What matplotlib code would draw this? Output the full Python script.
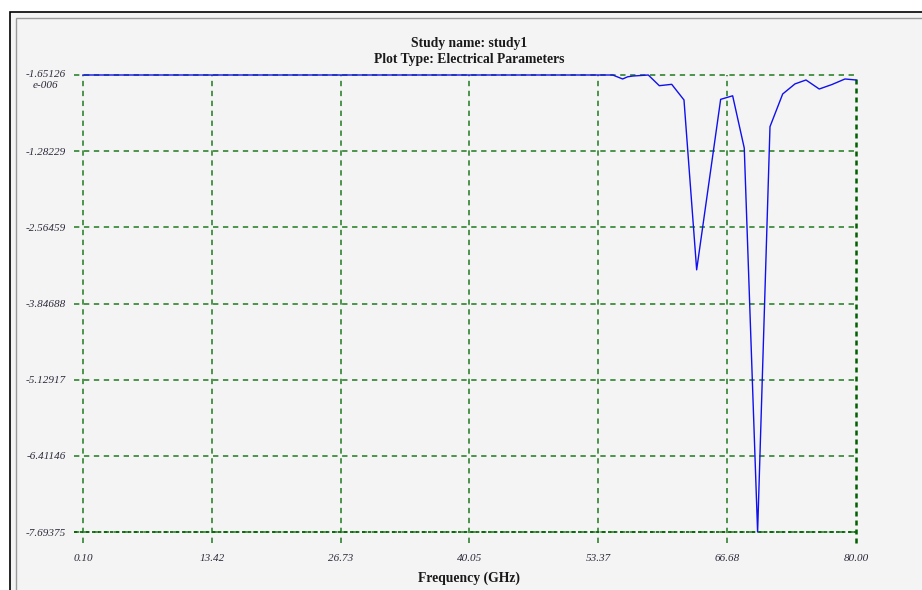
import matplotlib
matplotlib.use("Agg")
import matplotlib.pyplot as plt
from matplotlib.patches import Rectangle
from matplotlib.transforms import ScaledTranslation

# ---- data ----
freq_ghz = [0.10, 54.85, 55.88, 56.40, 56.95, 58.53, 59.67, 60.95, 62.22, 63.53,
            66.01, 67.25, 68.45, 69.83, 71.11, 72.42, 73.69, 74.83, 76.20, 77.52,
            78.86, 80.00]
values = [-1.65126e-6, -1.65126e-6, -0.067, -0.030, -0.017, -1.65126e-6, -0.180, -0.157,
          -0.420, -3.280, -0.410, -0.350, -1.230, -7.69375, -0.870, -0.320, -0.150,
          -0.084, -0.236, -0.160, -0.067, -0.084]

x_ticks = [0.10, 13.42, 26.73, 40.05, 53.37, 66.68, 80.00]
x_tick_labels = ["0.10", "13.42", "26.73", "40.05", "53.37", "66.68", "80.00"]
y_ticks = [-1.65126e-6, -1.28229, -2.56459, -3.84688, -5.12917, -6.41146, -7.69375]
y_tick_labels = ["-1.65126\ne-006", "-1.28229", "-2.56459", "-3.84688",
                 "-5.12917", "-6.41146", "-7.69375"]

title_line1 = "Study name: study1"
title_line2 = "Plot Type: Electrical Parameters"
x_label = "Frequency (GHz)"

# ---- figure ----
W, H = 922, 590
fig = plt.figure(figsize=(W / 100, H / 100), dpi=100)
fig.patch.set_facecolor("white")

# window frame
fig.add_artist(Rectangle((9.5 / W, -0.1), 1.2, 1 - 12.5 / H + 0.1,
                         transform=fig.transFigure, facecolor="#f4f4f4",
                         edgecolor="black", linewidth=1.2, zorder=0))
fig.add_artist(Rectangle((15.5 / W, -0.1), 1.2, 1 - 17.5 / H + 0.1,
                         transform=fig.transFigure, facecolor="none",
                         edgecolor="#9a9a9a", linewidth=1.0, zorder=0))

left, right, top, bottom = 83, 856, 75, 532
ax = fig.add_axes([left / W, 1 - bottom / H, (right - left) / W, (bottom - top) / H])
ax.set_facecolor("none")

grid_color = "#1f7a1f"
ax.set_xlim(0.10, 80.00)
ax.set_ylim(-7.69375, -1.65126e-6)

dash = (0, (3.5, 3))
for xv in x_ticks[:-1]:
    ax.plot([xv, xv], [-0.024, 1], transform=ax.get_xaxis_transform(),
            color=grid_color, linewidth=1.1, linestyle=dash, clip_on=False, zorder=1)
for yv in y_ticks[1:]:
    ax.plot([-0.012, 1], [yv, yv], transform=ax.get_yaxis_transform(),
            color=grid_color, linewidth=1.1, linestyle=dash, clip_on=False, zorder=1)
ax.plot([-0.012, 1], [y_ticks[0], y_ticks[0]], transform=ax.get_yaxis_transform(),
        color=grid_color, linewidth=1.1, linestyle=dash, clip_on=False, zorder=1)
ax.plot([x_ticks[-1], x_ticks[-1]], [-0.024, 1], transform=ax.get_xaxis_transform(),
        color="#006000", linewidth=1.8, linestyle=(0, (2, 1.6)), clip_on=False, zorder=1)
ax.plot([-0.012, 1], [y_ticks[-1], y_ticks[-1]], transform=ax.get_yaxis_transform(),
        color="#006000", linewidth=1.2, linestyle=(0, (2, 1.6)), clip_on=False, zorder=1)

for s in ax.spines.values():
    s.set_visible(False)

ax.plot(freq_ghz, values, color="#1010ee", linewidth=1.0, clip_on=False, zorder=3)

tick_font = dict(family="Liberation Serif", style="italic", size=8)
ax.set_xticks(x_ticks)
ax.set_xticklabels(x_tick_labels, color="#2a2a3a", **tick_font)
ax.set_yticks(y_ticks)
ax.set_yticklabels(y_tick_labels, color="#2a2a3a", **tick_font)
ax.tick_params(axis="x", length=0, pad=15.5)
ax.tick_params(axis="y", length=0, pad=12.2)

first = ax.yaxis.get_majorticklabels()[0]
first.set_multialignment("center")
first.set_va("top")
first.set_transform(first.get_transform() + ScaledTranslation(0, 3.5 / 72, fig.dpi_scale_trans))

cx = (left + right) / 2 / W
fig.text(cx, 1 - 43 / H, title_line1, ha="center", va="center",
         family="Liberation Serif", weight="bold", size=9.8, color="#1a1a1a")
fig.text(cx, 1 - 59 / H, title_line2, ha="center", va="center",
         family="Liberation Serif", weight="bold", size=9.8, color="#1a1a1a")
fig.text(cx, 1 - 578 / H, x_label, ha="center", va="center",
         family="Liberation Serif", weight="bold", size=9.8, color="#1a1a1a")

fig.savefig("out.png", dpi=100, facecolor=fig.get_facecolor())
